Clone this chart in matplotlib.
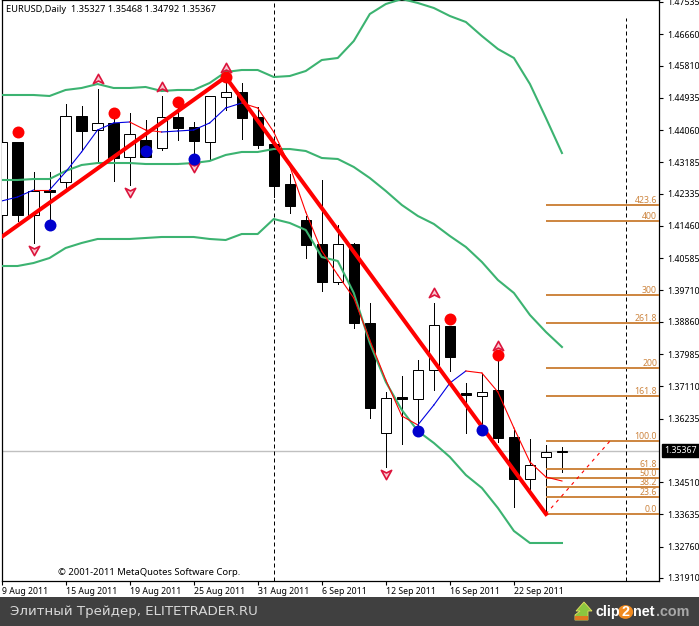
import numpy as np
import matplotlib
matplotlib.use("Agg")
import matplotlib.pyplot as plt
from matplotlib.patches import Rectangle, Circle, Polygon
from matplotlib.path import Path

plt.rcParams['font.family'] = ['Noto Sans', 'DejaVu Sans']

# =========================
# Data
# =========================
opens = [1.41757, 1.43737, 1.41757, 1.42435, 1.42652, 1.44443, 1.44062, 1.44253, 1.43330, 1.43791, 1.43574, 1.44415,
         1.44144, 1.43737, 1.44957, 1.45094, 1.44415, 1.43682, 1.42598, 1.41621, 1.40970, 1.39939, 1.40970, 1.38827,
         1.35843, 1.36820, 1.36766, 1.37552, 1.38746, 1.36928, 1.36847, 1.37009, 1.35734, 1.34595, 1.35192, 1.35327]
highs = [1.43737, 1.43737, 1.42923, 1.42923, 1.44767, 1.44713, 1.45175, 1.44524, 1.44524, 1.44334, 1.44985, 1.44795,
         1.44280, 1.44985, 1.45338, 1.45338, 1.44686, 1.43845, 1.42869, 1.41730, 1.42706, 1.41486, 1.40997, 1.39370,
         1.36955, 1.37389, 1.37823, 1.39370, 1.38746, 1.37199, 1.37444, 1.38094, 1.35924, 1.35680, 1.35518, 1.35468]
lows = [1.41486, 1.41594, 1.40997, 1.41567, 1.42435, 1.43520, 1.43222, 1.42679, 1.42571, 1.43330, 1.43520, 1.43791,
        1.43249, 1.43249, 1.44605, 1.43818, 1.43574, 1.42245, 1.41811, 1.40590, 1.39695, 1.39885, 1.38692, 1.36250,
        1.34920, 1.35545, 1.36006, 1.37009, 1.37525, 1.35843, 1.35924, 1.35599, 1.33835, 1.34297, 1.33645, 1.34792]
closes = [1.43737, 1.41757, 1.42408, 1.42381, 1.44443, 1.44035, 1.44253, 1.43303, 1.43954, 1.43330, 1.44415, 1.44117,
          1.43764, 1.44985, 1.45094, 1.44388, 1.43655, 1.42544, 1.42001, 1.40943, 1.39939, 1.40970, 1.38827, 1.36521,
          1.36793, 1.36766, 1.37552, 1.38773, 1.37905, 1.36874, 1.36955, 1.35707, 1.34595, 1.34975, 1.35327, 1.35367]

band_upper = [1.45012, 1.45012, 1.45012, 1.44985, 1.45148, 1.45202, 1.45310, 1.45202, 1.45202, 1.45229, 1.45120, 1.45148,
              1.45148, 1.45338, 1.45636, 1.45690, 1.45690, 1.45500, 1.45527, 1.45663, 1.45961, 1.46016, 1.46477, 1.47209,
              1.47480, 1.47616, 1.47508, 1.47372, 1.47155, 1.46992, 1.46612, 1.46260, 1.46016, 1.45310, 1.44388, 1.43438]
band_middle = [1.42706, 1.42706, 1.42733, 1.42733, 1.42950, 1.43113, 1.43167, 1.43167, 1.43167, 1.43140, 1.43140, 1.43140,
               1.43167, 1.43222, 1.43385, 1.43466, 1.43466, 1.43547, 1.43547, 1.43493, 1.43303, 1.43276, 1.43059, 1.42760,
               1.42408, 1.42028, 1.41730, 1.41513, 1.41187, 1.40889, 1.40482, 1.39993, 1.39641, 1.39044, 1.38583, 1.38176]
band_lower = [1.40373, 1.40373, 1.40454, 1.40590, 1.40861, 1.40997, 1.41106, 1.41106, 1.41106, 1.41133, 1.41160, 1.41160,
              1.41160, 1.41106, 1.41078, 1.41241, 1.41241, 1.41648, 1.41540, 1.41350, 1.40617, 1.40509, 1.39641, 1.38285,
              1.37227, 1.36467, 1.35897, 1.35572, 1.35192, 1.34703, 1.34351, 1.33808, 1.33185, 1.32859, 1.32859, 1.32859]
ma_line = [1.42136, 1.42245, 1.42435, 1.42435, 1.42923, 1.43466, 1.44062, 1.44253, 1.44280, 1.44062, 1.44008, 1.44035,
           1.44062, 1.44253, 1.44659, 1.44795, 1.44659, 1.44008, 1.43086, 1.41838, 1.40780, 1.40129, 1.39505, 1.38366,
           1.37281, 1.36304, 1.36060, 1.36602, 1.37199, 1.37525, 1.37471, 1.36955, 1.35979, 1.35056, 1.34649, 1.34541]

zigzag_x = [0, 14, 34]
zigzag_y = [1.41160, 1.45500, 1.33645]

red_x = [1, 7, 11, 14, 28, 31]
red_y = [1.44008, 1.44524, 1.44822, 1.45500, 1.38935, 1.37959]
blue_x = [3, 9, 12, 26, 30]
blue_y = [1.41486, 1.43493, 1.43276, 1.35897, 1.35924]
arrow_up_x = [6, 10, 14, 27, 31]
arrow_up_y = [1.45446, 1.45229, 1.45744, 1.39641, 1.38203]
arrow_down_x = [2, 8, 12, 24]
arrow_down_y = [1.40807, 1.42381, 1.43059, 1.34730]

fib_labels = ["0.0", "23.6", "38.2", "50.0", "61.8", "100.0", "161.8", "200", "261.8", "300", "400", "423.6"]
fib_prices = [1.33645, 1.34106, 1.34378, 1.34622, 1.34866, 1.35626, 1.36847, 1.37606, 1.38827, 1.39586, 1.41594, 1.42028]

price_ticks = [1.47535, 1.46660, 1.45810, 1.44935, 1.44060, 1.43185, 1.42335, 1.41460, 1.40585, 1.39710,
               1.38860, 1.37985, 1.37110, 1.36235, 1.34510, 1.33635, 1.32760, 1.31910]
date_ticks = [0, 4, 8, 12, 16, 20, 24, 28, 32]
date_labels = ["9 Aug 2011", "15 Aug 2011", "19 Aug 2011", "25 Aug 2011", "31 Aug 2011",
               "6 Sep 2011", "12 Sep 2011", "16 Sep 2011", "22 Sep 2011"]
separators = [17, 39]
last_price = 1.35367

W, H = 699, 626
GREEN = "#3CB371"
PERU = "#CD853F"
CRIMSON = "#DC143C"

# =========================
# Figure and axes
# =========================
fig = plt.figure(figsize=(W / 100, H / 100), dpi=100, facecolor="white")
ax = fig.add_axes([1.5 / W, (H - 581) / H, 657.5 / W, 581 / H])
ax.set_xlim(0, 41.06)
ax.set_ylim(1.31828, 1.47589)

x = np.arange(len(opens))

# price line and period separators
ax.axhline(last_price, color="#C0C0C0", lw=1, zorder=1)
ax.vlines(separators[0], 1.31828, 1.47589, color="black", lw=0.72, ls=(0, (4, 3)), zorder=1)
ax.vlines(separators[1], 1.31828, 1.47101, color="black", lw=0.72, ls=(0, (4, 3)), zorder=1)

# =========================
# Candles
# =========================
for i in x:
    ax.plot([i, i], [lows[i], highs[i]], color="black", lw=0.72, zorder=2)
    up = closes[i] >= opens[i]
    ax.bar(i, abs(closes[i] - opens[i]), bottom=min(opens[i], closes[i]), width=0.64,
           color="white" if up else "black", edgecolor="black", lw=0.72, zorder=3)

# =========================
# Indicators
# =========================
for band in [band_upper, band_middle, band_lower]:
    ax.plot(x, band, color=GREEN, lw=1.5, zorder=4)

for i in x[:-1]:
    col = "#0000E0" if ma_line[i + 1] > ma_line[i] else "#FF0000"
    ax.plot([i, i + 1], [ma_line[i], ma_line[i + 1]], color=col, lw=0.8, zorder=5)

# fibonacci levels
for price, lab in zip(fib_prices, fib_labels):
    ax.plot([34, 41.06], [price, price], color=PERU, lw=1.4, zorder=4, solid_capstyle="butt")
    ax.text(40.94, price + 0.00012, lab, color=PERU, fontsize=6.3, ha="right", va="bottom", zorder=4)
ax.plot([34, 38], [fib_prices[0], fib_prices[5]], color="#FF0000", lw=0.8, ls=(0, (3, 4)), zorder=5)

ax.plot(zigzag_x, zigzag_y, color="#FF0000", lw=2.9, zorder=6, solid_joinstyle="miter")

# fractal arrows
arrow_up = Path([(0, 1), (-1, -0.8), (0, -0.3), (1, -0.8), (0, 1)],
                [Path.MOVETO, Path.LINETO, Path.LINETO, Path.LINETO, Path.CLOSEPOLY])
arrow_down = Path([(0, -1), (-1, 0.8), (0, 0.3), (1, 0.8), (0, -1)],
                  [Path.MOVETO, Path.LINETO, Path.LINETO, Path.LINETO, Path.CLOSEPOLY])
ax.scatter(arrow_up_x, arrow_up_y, marker=arrow_up, s=55, facecolor="#F8C8D0", edgecolor=CRIMSON, lw=1.2, zorder=7)
ax.scatter(arrow_down_x, arrow_down_y, marker=arrow_down, s=55, facecolor="#F8C8D0", edgecolor=CRIMSON, lw=1.2, zorder=7)

ax.plot(red_x, red_y, "o", color="#FF0000", ms=8.6, mew=0, zorder=8)
ax.plot(blue_x, blue_y, "o", color="#0000CD", ms=8.6, mew=0, zorder=8)

# =========================
# Axes dressing
# =========================
ax.spines["top"].set_linewidth(0.9)
ax.spines["left"].set_linewidth(0.9)
ax.spines["right"].set_linewidth(0.9)
ax.spines["bottom"].set_linewidth(0.9)

ax.yaxis.tick_right()
ax.set_yticks(price_ticks, [f"{p:.5f}" for p in price_ticks])
ax.set_xticks(date_ticks, date_labels, ha="left")
ax.tick_params(axis="y", length=2.6, width=0.8, pad=3.5, labelsize=6.3)
ax.tick_params(axis="x", length=2.6, width=0.8, pad=1.5, labelsize=6.3)

ax.text(0.0063, 0.9845, "EURUSD,Daily  1.35327 1.35468 1.34792 1.35367",
        transform=ax.transAxes, fontsize=6.7, va="center", ha="left")
ax.text(57 / 657.5, 0.0143, "\u00a9 2001-2011 MetaQuotes Software Corp.",
        transform=ax.transAxes, fontsize=6.8, va="center", ha="left")

ax.text(1.0085, last_price, "1.35367", transform=ax.get_yaxis_transform(), color="white", fontsize=6.3,
        va="center", ha="left", zorder=10, clip_on=False,
        bbox=dict(facecolor="black", edgecolor="black", boxstyle="square,pad=0.25"))

# =========================
# Bottom banner with logo
# =========================
fig.add_artist(Rectangle((0, 0), 1, (H - 597) / H, transform=fig.transFigure, color="#404040", lw=0))
fig.text(10 / W, (H - 612) / H, "\u042d\u043b\u0438\u0442\u043d\u044b\u0439 \u0422\u0440\u0435\u0439\u0434\u0435\u0440, ELITETRADER.RU",
         color="#D8D8D8", fontsize=9.6, va="center", ha="left", family="DejaVu Sans")

arrow_px = [(584, 602), (592, 611), (588, 611), (588, 620), (575, 620), (575, 615), (580, 611), (576, 611)]
fig.add_artist(Polygon([(a / W, (H - b) / H) for a, b in arrow_px], closed=True,
                       transform=fig.transFigure, facecolor="#8CC63F", edgecolor="#E8E060", lw=0.6))
fig.add_artist(Rectangle((575 / W, (H - 620) / H), 13 / W, 4 / H, transform=fig.transFigure,
                         facecolor="#E07820", lw=0))
fig.add_artist(Circle((625.5 / W, (H - 612) / H), 0.011, transform=fig.transFigure, facecolor="#F08A20", lw=0))

logo_font = dict(fontsize=10.4, va="center", ha="left", family="Liberation Sans", fontweight="bold")
fig.text(596 / W, (H - 612) / H, "clip", color="white", **logo_font)
fig.text(621.5 / W, (H - 612) / H, "2", color="white", **logo_font)
fig.text(633 / W, (H - 612) / H, "net", color="white", **logo_font)
fig.text(656 / W, (H - 612) / H, ".com", color="#A8A8A8", **logo_font)

fig.savefig("out.png", dpi=100)
